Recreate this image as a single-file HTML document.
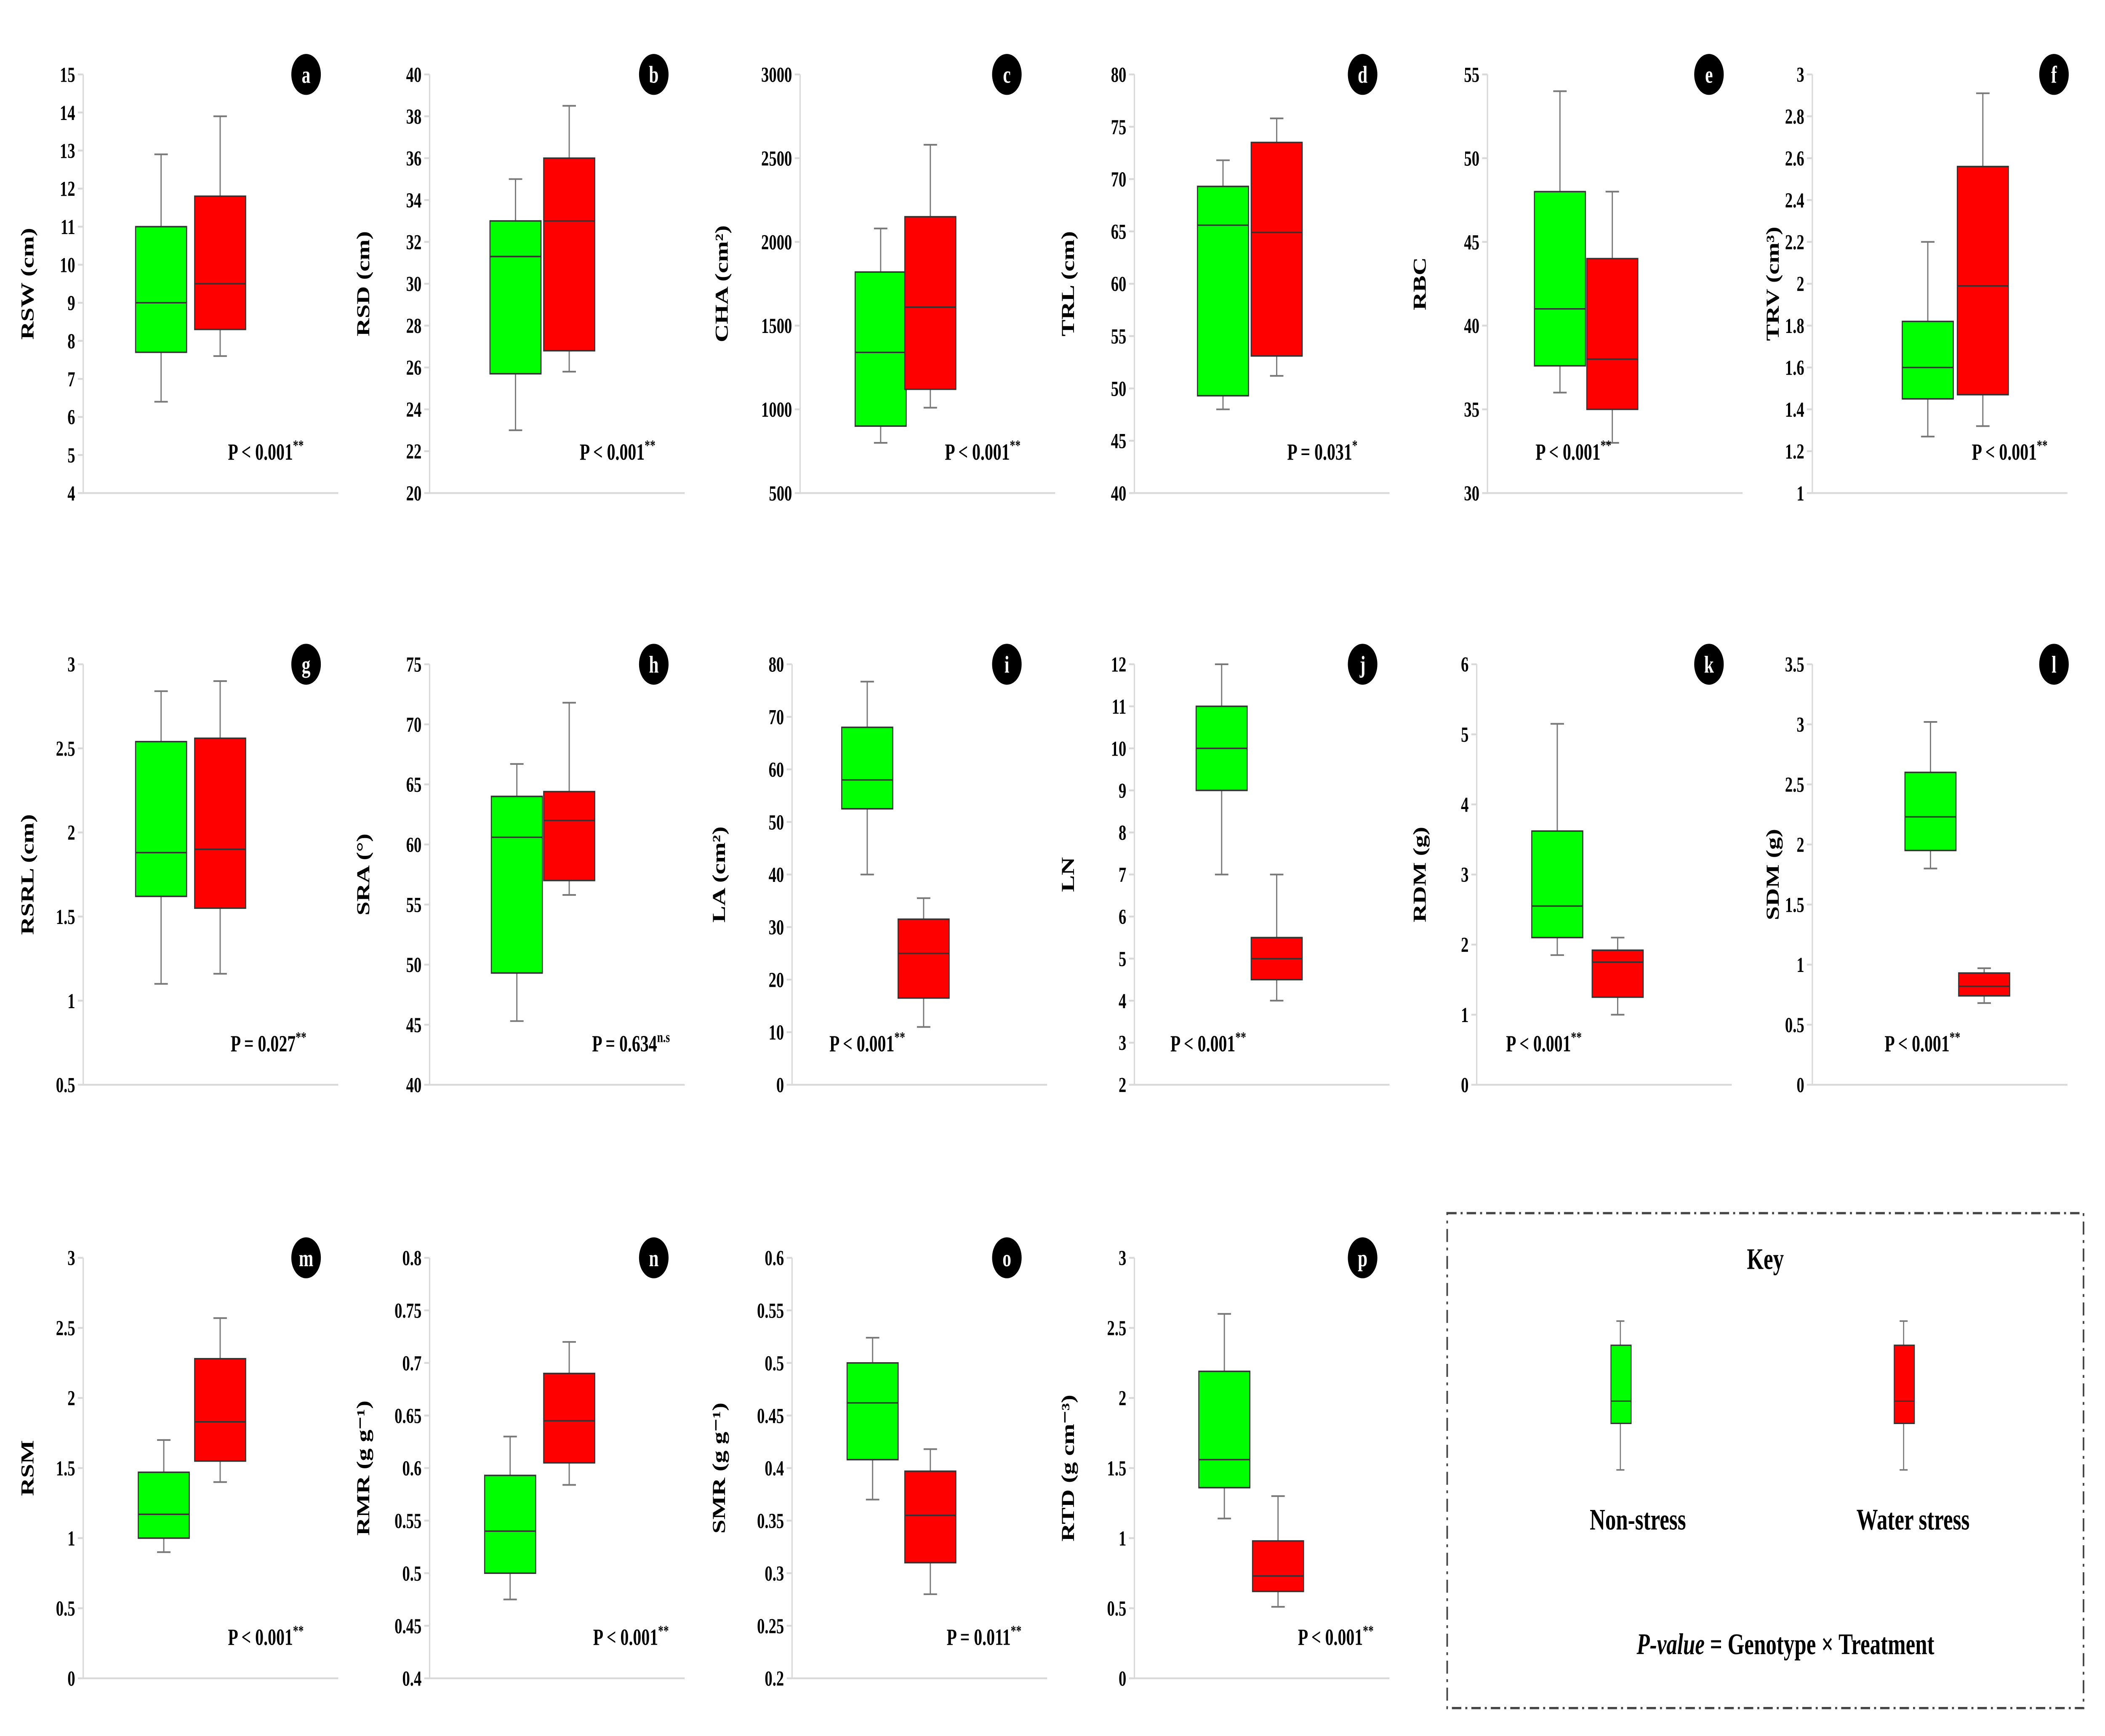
<!DOCTYPE html>
<html><head><meta charset="utf-8"><style>
html,body{margin:0;padding:0;background:#fff;width:100%;height:100%;overflow:hidden;}
svg{display:block;font-family:"Liberation Serif",serif;font-weight:bold;width:100vw;height:100vh;}
</style></head><body>
<svg id="fig" viewBox="0 0 1568 933" preserveAspectRatio="none" xmlns="http://www.w3.org/2000/svg">
<g id="panels"></g>
<g>
<rect x="1078" y="652" width="474" height="266" fill="none" stroke="#444" stroke-width="1.2" stroke-dasharray="7,3,1.5,3"/>
<text x="1315" y="682" text-anchor="middle" font-size="16">Key</text>
<g>
<line x1="1207" y1="710" x2="1207" y2="790" stroke="#777" stroke-width="0.8"/>
<line x1="1204" y1="710" x2="1210" y2="710" stroke="#777" stroke-width="0.8"/>
<line x1="1204" y1="790" x2="1210" y2="790" stroke="#777" stroke-width="0.8"/>
<rect x="1200" y="723" width="15" height="42" fill="#00ff00" stroke="#333" stroke-width="0.7"/>
<line x1="1200" y1="753" x2="1215" y2="753" stroke="#333" stroke-width="0.7"/>
<text x="1220" y="822" text-anchor="middle" font-size="16">Non-stress</text>
</g>
<g>
<line x1="1418" y1="710" x2="1418" y2="790" stroke="#777" stroke-width="0.8"/>
<line x1="1415" y1="710" x2="1421" y2="710" stroke="#777" stroke-width="0.8"/>
<line x1="1415" y1="790" x2="1421" y2="790" stroke="#777" stroke-width="0.8"/>
<rect x="1411" y="723" width="15" height="42" fill="#ff0000" stroke="#333" stroke-width="0.7"/>
<line x1="1411" y1="753" x2="1426" y2="753" stroke="#333" stroke-width="0.7"/>
<text x="1425" y="822" text-anchor="middle" font-size="16">Water stress</text>
</g>
<text x="1330" y="889" text-anchor="middle" font-size="16"><tspan font-style="italic">P-value</tspan> = Genotype × Treatment</text>
</g>
</svg>
<script>
const panelIds = ["a","b","c","d","e","f","g","h","i","j","k","l","m","n","o","p"];
const yLabels = ["RSW (cm)","RSD (cm)","CHA (cm²)","TRL (cm)","RBC","TRV (cm³)","RSRL (cm)","SRA (°)","LA (cm²)","LN","RDM (g)","SDM (g)","RSM","RMR (g g⁻¹)","SMR (g g⁻¹)","RTD (g cm⁻³)"];
const axisMin = [4,20,500,40,30,1,0.5,40,0,2,0,0,0,0.4,0.2,0];
const axisMax = [15,40,3000,80,55,3,3,75,80,12,6,3.5,3,0.8,0.6,3];
const axisStep = [1,2,500,5,5,0.2,0.5,5,10,1,1,0.5,0.5,0.05,0.05,0.5];
// [whiskerLow, q1, median, q3, whiskerHigh]
const nonStress = [
 [6.4,7.7,9,11,12.9],[23,25.7,31.3,33,35],[800,900,1340,1820,2080],[48,49.3,65.6,69.3,71.8],
 [36,37.6,41,48,54],[1.27,1.45,1.6,1.82,2.2],[1.1,1.62,1.88,2.54,2.84],[45.3,49.3,60.6,64,66.7],
 [40,52.5,58,68,76.7],[7,9,10,11,12],[1.85,2.1,2.55,3.62,5.15],[1.8,1.95,2.23,2.6,3.02],
 [0.9,1.0,1.17,1.47,1.7],[0.475,0.5,0.54,0.593,0.63],[0.37,0.408,0.462,0.5,0.524],[1.14,1.36,1.56,2.19,2.6]];
const waterStress = [
 [7.6,8.3,9.5,11.8,13.9],[25.8,26.8,33,36,38.5],[1010,1120,1610,2150,2580],[51.2,53.1,64.9,73.5,75.8],
 [33,35,38,44,48],[1.32,1.47,1.99,2.56,2.91],[1.16,1.55,1.9,2.56,2.9],[55.8,57,62,64.4,71.8],
 [11,16.5,25,31.5,35.5],[4,4.5,5,5.5,7],[1.0,1.25,1.75,1.92,2.1],[0.68,0.74,0.82,0.93,0.97],
 [1.4,1.55,1.83,2.28,2.57],[0.584,0.605,0.645,0.69,0.72],[0.28,0.31,0.355,0.397,0.418],[0.51,0.62,0.73,0.98,1.3]];
const pTexts = ["P < 0.001","P < 0.001","P < 0.001","P = 0.031","P < 0.001","P < 0.001","P = 0.027","P = 0.634","P < 0.001","P < 0.001","P < 0.001","P < 0.001","P < 0.001","P < 0.001","P = 0.011","P < 0.001"];
const pSup = ["**","**","**","*","**","**","**","n.s","**","**","**","**","**","**","**","**"];

// layout (not data)
const L = {
 ax:[62,320,596,845,1108,1350,62,320,590,845,1100,1350,62,320,590,845],
 gx:[120,384,656,911,1162,1436,120,385,646,910,1160,1438,122,380,650,912],
 rx:[164,424,693,951,1201,1477,164,424,688,951,1205,1478,164,424,693,952],
 lab:[228,487,750,1015,1273,1530,228,487,750,1015,1273,1530,228,487,750,1015],
 ylx:[20,270,537,795,1057,1320,20,270,535,795,1057,1320,20,270,535,795],
 px:[198,460,732,985,1172,1497,200,470,646,900,1150,1432,198,470,733,995],
 top:[40,357,676], bot:[265,583,902]
};
const NS="http://www.w3.org/2000/svg";
function mk(tag,attrs,parent){const e=document.createElementNS(NS,tag);for(const k in attrs)e.setAttribute(k,attrs[k]);parent.appendChild(e);return e;}
function fmt(v,step){const d=step<0.1?2:(step<1?1:0);let s=v.toFixed(d);if(s.indexOf('.')>=0)s=s.replace(/0+$/,'').replace(/\.$/,'');return s;}
const root=document.getElementById('panels');
panelIds.forEach((id,i)=>{
 const row=Math.floor(i/6);
 const top=L.top[row], bot=L.bot[row], ax=L.ax[i];
 const y=v=>bot-(v-axisMin[i])/(axisMax[i]-axisMin[i])*(bot-top);
 const g=mk('g',{},root);
 
 
 const axl=mk('path',{d:`M${ax} ${top}V${bot}H${ax+190}`,fill:'none',stroke:'#d9d9d9','stroke-width':1},g);
 
 
 const n=Math.round((axisMax[i]-axisMin[i])/axisStep[i]);
 for(let k=0;k<=n;k++){
  const v=axisMin[i]+k*axisStep[i], yy=y(v);
  mk('line',{x1:ax-4,y1:yy,x2:ax,y2:yy,stroke:'#d9d9d9','stroke-width':1},g);
  const t=mk('text',{x:ax-6,y:yy+4,'text-anchor':'end','font-size':11.5},g);
  t.textContent=fmt(v,axisStep[i]);
  
  
 }
 const yl=mk('text',{x:0,y:0,'text-anchor':'middle','font-size':13.5,transform:`translate(${L.ylx[i]+5},${(top+bot)/2}) rotate(-90)`},g);
 yl.textContent=yLabels[i];
 
 
 [[nonStress[i],L.gx[i],'#00ff00','non-stress'],[waterStress[i],L.rx[i],'#ff0000','water-stress']].forEach(([d,cx,col,nm])=>{
  const bg=mk('g',{},g);
  
  
  const w=19;
  mk('line',{x1:cx,y1:y(d[0]),x2:cx,y2:y(d[4]),stroke:'#777','stroke-width':0.9},bg);
  mk('line',{x1:cx-5,y1:y(d[0]),x2:cx+5,y2:y(d[0]),stroke:'#777','stroke-width':0.9},bg);
  mk('line',{x1:cx-5,y1:y(d[4]),x2:cx+5,y2:y(d[4]),stroke:'#777','stroke-width':0.9},bg);
  mk('rect',{x:cx-w,y:y(d[3]),width:2*w,height:y(d[1])-y(d[3]),fill:col,stroke:'#333','stroke-width':0.8},bg);
  mk('line',{x1:cx-w,y1:y(d[2]),x2:cx+w,y2:y(d[2]),stroke:'#333','stroke-width':0.8},bg);
 });
 const c=mk('circle',{cx:L.lab[i],cy:top,r:11,fill:'#000'},g);
 
 
 const ct=mk('text',{x:L.lab[i],y:top+4.5,'text-anchor':'middle','font-size':13,fill:'#fff'},g);
 ct.textContent=id;
 const pt=mk('text',{x:L.px[i],y:bot-18,'text-anchor':'middle','font-size':12.5},g);
 
 
 pt.appendChild(document.createTextNode(pTexts[i]));
 const sp=mk('tspan',{dy:-5,'font-size':8},pt);
 sp.textContent=pSup[i];
});
</script>
</body></html>
